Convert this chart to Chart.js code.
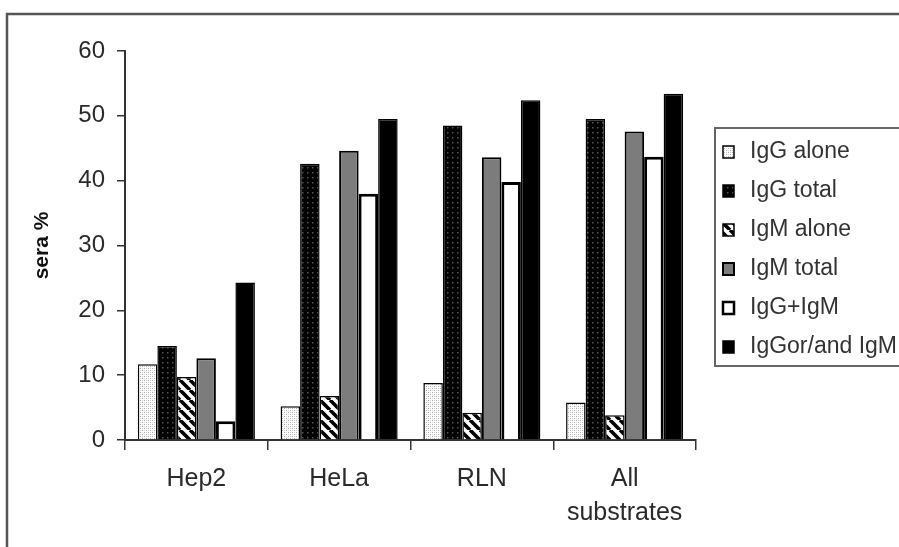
<!DOCTYPE html>
<html>
<head>
<meta charset="utf-8">
<script src="https://cdn.jsdelivr.net/npm/chart.js@4"></script>
<style>
  html, body { margin: 0; padding: 0; background: #fff; }
  #wrap { width: 899px; height: 547px; position: relative; }
</style>
</head>
<body>
<div id="wrap"><canvas id="seraChart"></canvas></div>
<script>
// data
const categories = ['Hep2', 'HeLa', 'RLN', ['All', 'substrates']];
const seriesNames = ['IgG alone', 'IgG total', 'IgM alone', 'IgM total', 'IgG+IgM', 'IgGor/and IgM'];
const iggAlone = [11.7, 5.2, 8.8, 5.8];
const iggTotal = [14.5, 42.6, 48.5, 49.5];
const igmAlone = [9.7, 6.8, 4.2, 3.8];
const igmTotal = [12.6, 44.6, 43.6, 47.6];
const iggIgm = [2.9, 38.0, 39.8, 43.7];
const iggOrIgm = [24.3, 49.5, 52.4, 53.4];
const yTicks = [0, 10, 20, 30, 40, 50, 60];

const FONT = '"Liberation Sans", Arial, sans-serif';

function makePattern(size, draw) {
    const c = document.createElement('canvas');
    c.width = c.height = size;
    const g = c.getContext('2d');
    draw(g, size);
    return g.createPattern(c, 'repeat');
}

// fills
const dottedLight = makePattern(4, function (g, s) {
    g.fillStyle = '#fff'; g.fillRect(0, 0, s, s);
    g.fillStyle = '#aaa'; g.fillRect(0, 0, 1, 1); g.fillRect(2, 2, 1, 1);
    g.fillStyle = '#d6d6d6'; g.fillRect(2, 0, 1, 1); g.fillRect(0, 2, 1, 1);
});
const dottedDark = makePattern(5, function (g, s) {
    g.fillStyle = '#000'; g.fillRect(0, 0, s, s);
    g.fillStyle = '#555'; g.fillRect(2, 2, 1.5, 1.5);
});
const stripes = makePattern(10, function (g, s) {
    g.fillStyle = '#fff'; g.fillRect(0, 0, s, s);
    g.strokeStyle = '#000'; g.lineWidth = 3.6;
    g.beginPath();
    [-s, 0, s].forEach(function (k) { g.moveTo(k, 0); g.lineTo(k + s, s); });
    g.stroke();
});

const datasets = [
    { label: seriesNames[0], data: iggAlone, backgroundColor: dottedLight, borderWidth: 1.5 },
    { label: seriesNames[1], data: iggTotal, backgroundColor: dottedDark, borderWidth: 1.5 },
    { label: seriesNames[2], data: igmAlone, backgroundColor: stripes, borderWidth: 1.5 },
    { label: seriesNames[3], data: igmTotal, backgroundColor: '#7c7c7c', borderWidth: 2 },
    { label: seriesNames[4], data: iggIgm, backgroundColor: '#fff', borderWidth: 3 },
    { label: seriesNames[5], data: iggOrIgm, backgroundColor: '#000', borderWidth: 1.5 }
];
datasets.forEach(function (ds) { ds.borderColor = '#000'; });

// outer frame + boxed legend
const decorPlugin = {
    id: 'decor',
    afterDraw(chart) {
        const ctx = chart.ctx;
        ctx.save();
        ctx.strokeStyle = '#555';
        ctx.lineWidth = 2.5;
        ctx.beginPath();
        ctx.moveTo(7, 547);
        ctx.lineTo(7, 14);
        ctx.lineTo(899, 14);
        ctx.stroke();

        ctx.lineWidth = 2;
        ctx.strokeStyle = '#666';
        ctx.strokeRect(715, 128, 200, 238);

        ctx.font = '23px ' + FONT;
        ctx.textBaseline = 'middle';
        chart.data.datasets.forEach(function (ds, i) {
            const y = 152 + i * 39;
            ctx.fillStyle = ds.backgroundColor;
            ctx.fillRect(723, y - 6, 11, 12);
            ctx.strokeStyle = '#000';
            ctx.lineWidth = Math.min(ds.borderWidth, 2.5);
            ctx.strokeRect(723, y - 6, 11, 12);
            ctx.fillStyle = '#333';
            ctx.fillText(ds.label, 750, y);
        });
        ctx.restore();
    }
};

new Chart(document.getElementById('seraChart'), {
    type: 'bar',
    data: { labels: categories, datasets: datasets },
    options: {
        responsive: true,
        maintainAspectRatio: false,
        animation: false,
        datasets: { bar: { categoryPercentage: 0.82, barPercentage: 1.0 } },
        layout: { padding: { top: 51, right: 203, bottom: 0, left: 0 } },
        plugins: {
            legend: { display: false },
            tooltip: { enabled: false }
        },
        scales: {
            x: {
                offset: true,
                grid: { offset: true, drawOnChartArea: false, drawTicks: true, tickLength: 10, color: '#333', lineWidth: 1.5 },
                border: { display: true, color: '#333', width: 2 },
                ticks: { color: '#2a2a2a', padding: 12, font: { family: FONT, size: 25, lineHeight: 1.36 }, maxRotation: 0, autoSkip: false },
                afterFit(scale) { scale.height = 107; }
            },
            y: {
                min: yTicks[0],
                max: yTicks[yTicks.length - 1],
                afterBuildTicks(scale) { scale.ticks = yTicks.map(v => ({ value: v })); },
                grid: { drawOnChartArea: false, drawTicks: true, tickLength: 8, color: '#333', lineWidth: 1.5 },
                border: { display: true, color: '#333', width: 2 },
                ticks: { color: '#2a2a2a', padding: 12, font: { family: FONT, size: 24 } },
                title: { display: true, text: 'sera %', color: '#111', padding: { top: 30, bottom: 0 }, font: { family: FONT, size: 21, weight: 'bold' } },
                afterFit(scale) { scale.width = 125; }
            }
        }
    },
    plugins: [decorPlugin]
});
</script>
</body>
</html>
